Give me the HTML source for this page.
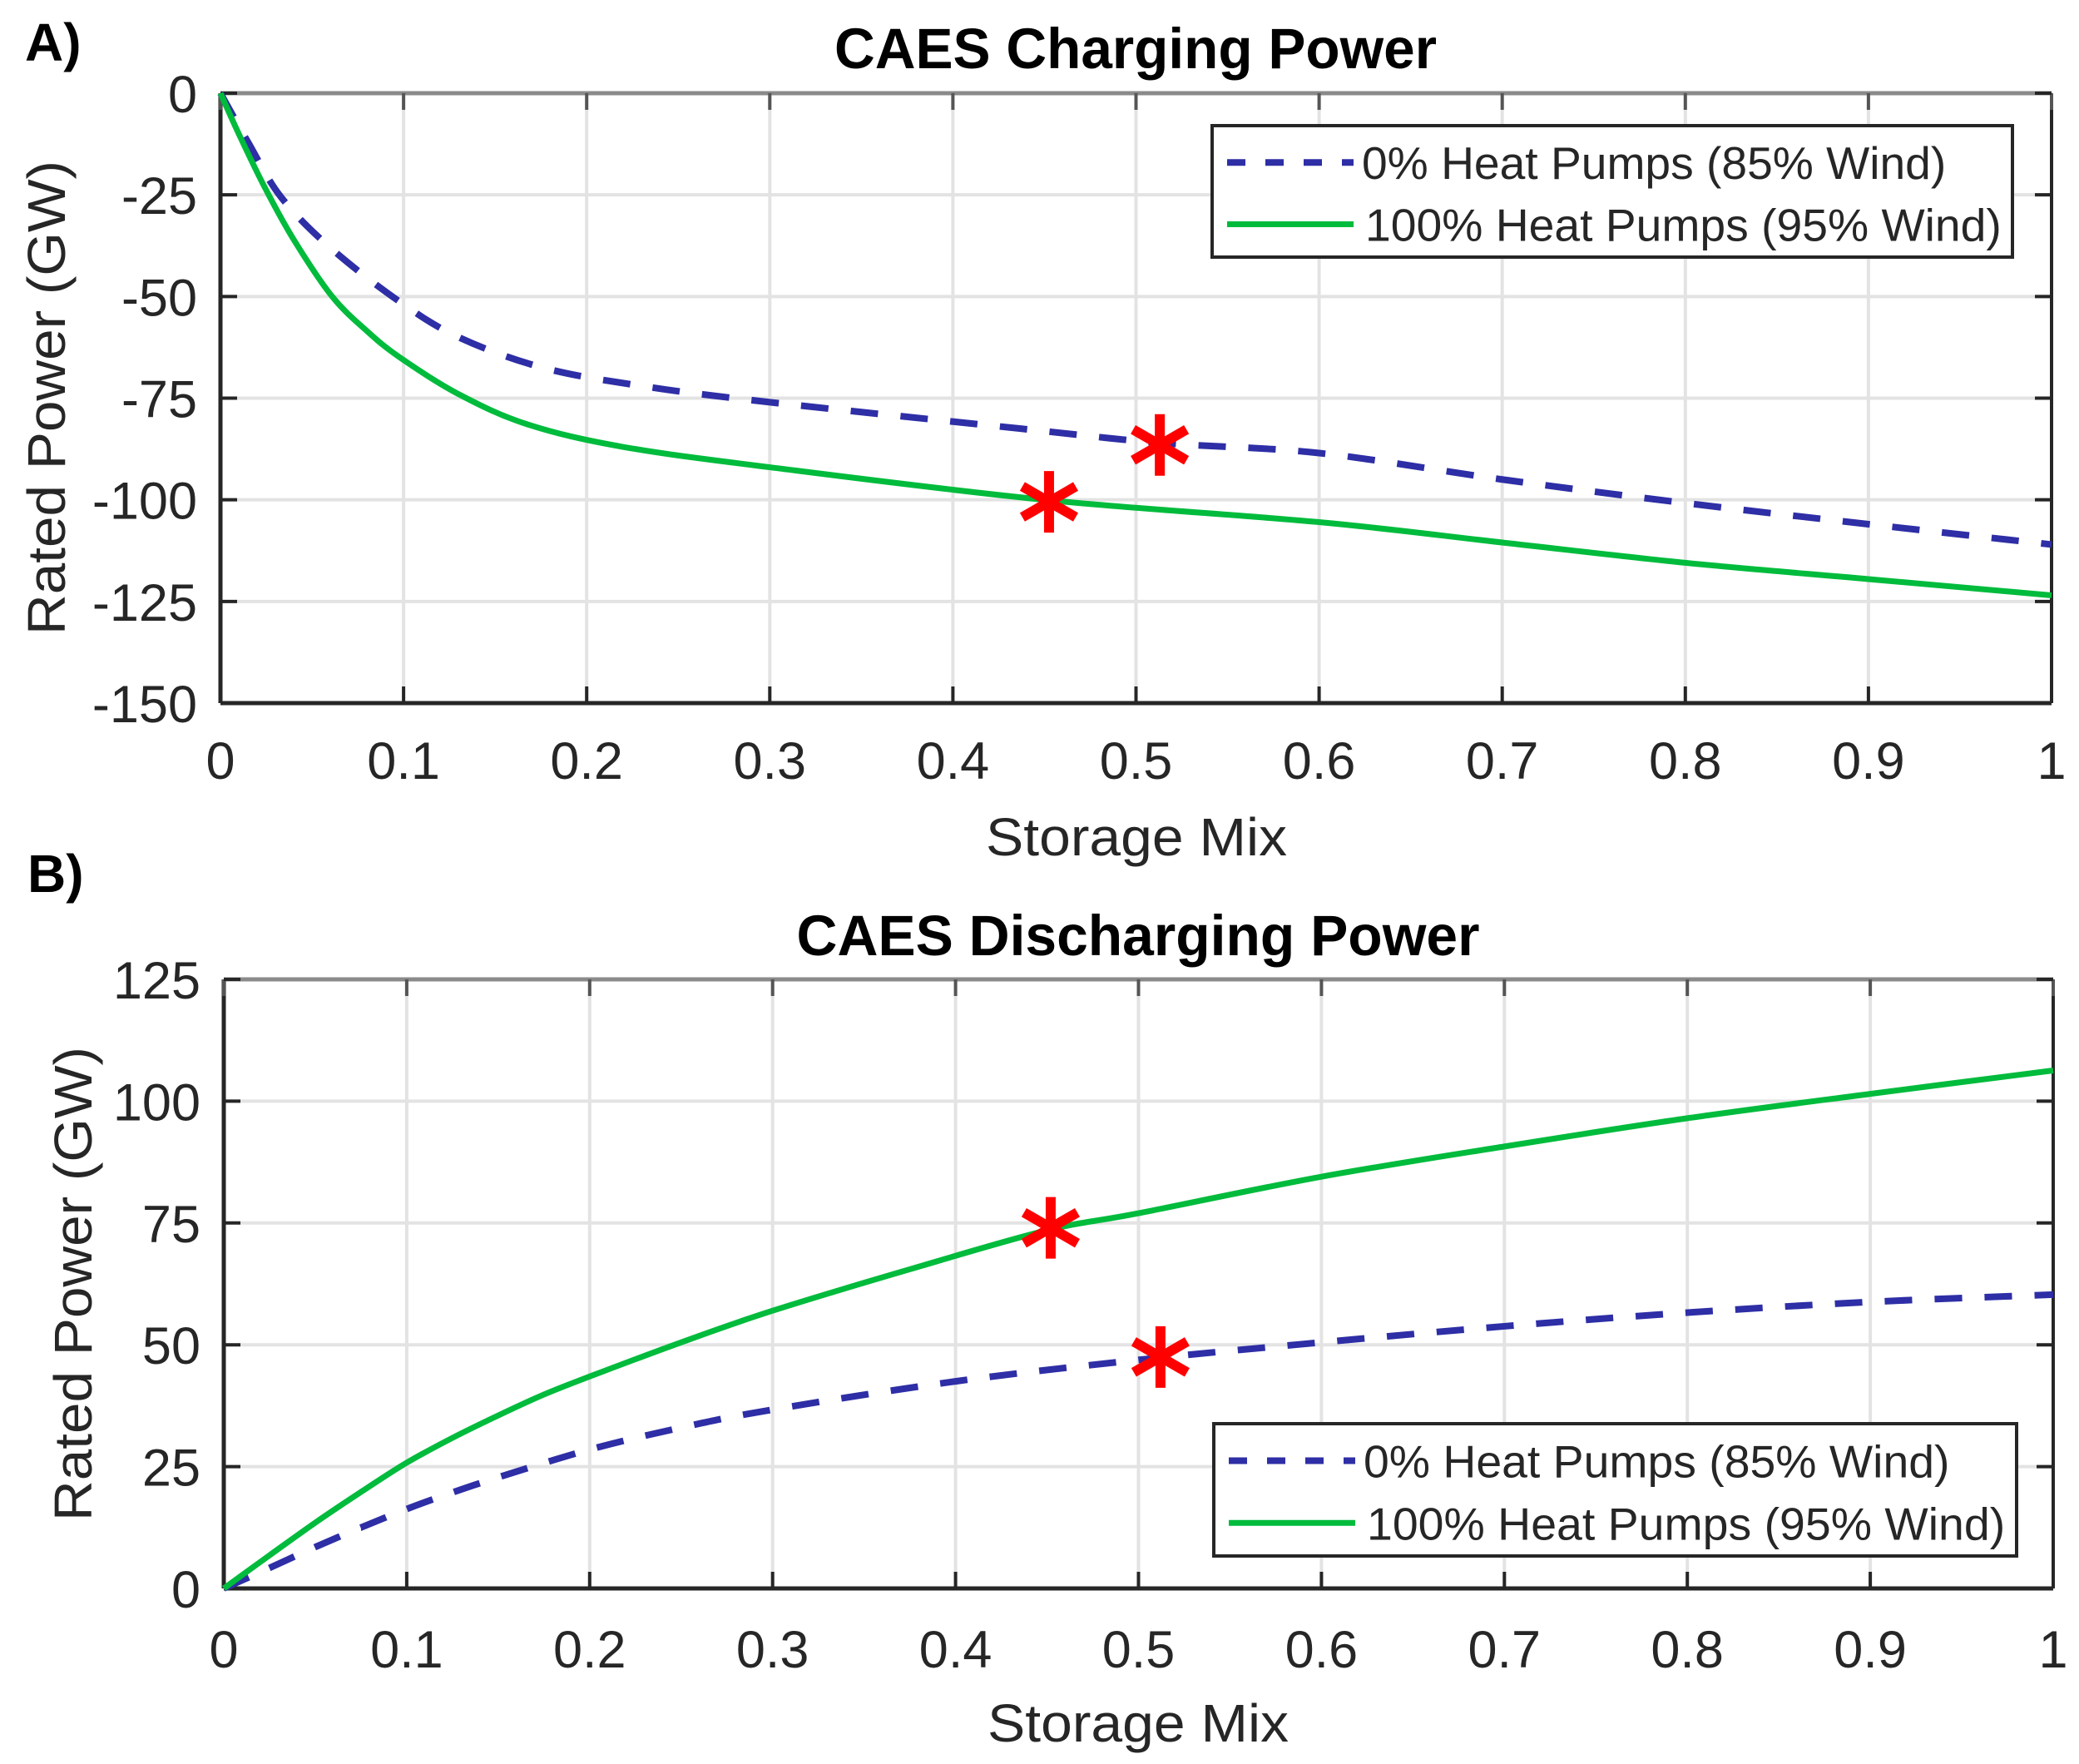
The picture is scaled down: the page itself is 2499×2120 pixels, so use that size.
<!DOCTYPE html>
<html><head><meta charset="utf-8"><style>
html,body{margin:0;padding:0;background:#fff;}
svg{display:block;}
text{font-family:"Liberation Sans",Arial,sans-serif;}
</style></head><body>
<svg id="s" width="2499" height="2120" viewBox="0 0 2499 2120" xmlns="http://www.w3.org/2000/svg">
<rect width="2499" height="2120" fill="#fff"/>
<g id="g"></g>
<text x="30" y="73" font-size="64" font-weight="bold" fill="#000">A)</text>
<text x="1365" y="82" font-size="69" font-weight="bold" text-anchor="middle" textLength="724" lengthAdjust="spacingAndGlyphs" fill="#000">CAES Charging Power</text>
<text x="33" y="1072" font-size="64" font-weight="bold" fill="#000">B)</text>
<text x="1368" y="1148" font-size="69" font-weight="bold" text-anchor="middle" textLength="821" lengthAdjust="spacingAndGlyphs" fill="#000">CAES Discharging Power</text>
<text x="1366" y="1028" font-size="64" text-anchor="middle" textLength="362" lengthAdjust="spacingAndGlyphs" fill="#262626">Storage Mix</text>
<text x="1368" y="2093" font-size="64" text-anchor="middle" textLength="362" lengthAdjust="spacingAndGlyphs" fill="#262626">Storage Mix</text>
<text transform="translate(78,478) rotate(-90)" font-size="64" text-anchor="middle" textLength="570" lengthAdjust="spacingAndGlyphs" fill="#262626">Rated Power (GW)</text>
<text transform="translate(110,1543) rotate(-90)" font-size="64" text-anchor="middle" textLength="570" lengthAdjust="spacingAndGlyphs" fill="#262626">Rated Power (GW)</text>
</svg>
<script>
(function(){
var g=document.getElementById('g');var NS='http://www.w3.org/2000/svg';
function el(t,a,txt){var e=document.createElementNS(NS,t);for(var k in a)e.setAttribute(k,a[k]);if(txt!==undefined)e.textContent=txt;g.appendChild(e);return e;}
function cr(pts){
 var d='M'+pts[0][0]+','+pts[0][1];
 for(var i=0;i<pts.length-1;i++){
  var p0=pts[i-1]||pts[i],p1=pts[i],p2=pts[i+1],p3=pts[i+2]||p2;
  var c1=[p1[0]+(p2[0]-p0[0])/6,p1[1]+(p2[1]-p0[1])/6];
  var c2=[p2[0]-(p3[0]-p1[0])/6,p2[1]-(p3[1]-p1[1])/6];
  d+=' C'+c1[0]+','+c1[1]+' '+c2[0]+','+c2[1]+' '+p2[0]+','+p2[1];
 }
 return d;
}
function star(x,y){
 var r=37,w=12;
 el('line',{x1:x,y1:y-r,x2:x,y2:y+r,stroke:'#ff0000','stroke-width':w});
 var a=Math.PI/6;
 el('line',{x1:x-r*Math.cos(a),y1:y-r*Math.sin(a),x2:x+r*Math.cos(a),y2:y+r*Math.sin(a),stroke:'#ff0000','stroke-width':w});
 el('line',{x1:x-r*Math.cos(a),y1:y+r*Math.sin(a),x2:x+r*Math.cos(a),y2:y-r*Math.sin(a),stroke:'#ff0000','stroke-width':w});
}
function panel(o){
 var X=function(v){return o.x0+v*(o.x1-o.x0);};
 var Y=function(v){return o.yb+(v-o.vmin)/(o.vmax-o.vmin)*(o.yt-o.yb);};
 for(var i=1;i<10;i++){var x=X(i/10);el('line',{x1:x,y1:o.yt,x2:x,y2:o.yb,stroke:'#e3e3e3','stroke-width':4});}
 for(var v=o.vmin+25;v<o.vmax;v+=25){var y=Y(v);el('line',{x1:o.x0,y1:y,x2:o.x1,y2:y,stroke:'#e3e3e3','stroke-width':4});}
 el('line',{x1:o.x0,y1:o.yt,x2:o.x1,y2:o.yt,stroke:'#8a8a8a','stroke-width':5});
 el('line',{x1:o.x1,y1:o.yt,x2:o.x1,y2:o.yb,stroke:'#262626','stroke-width':4});
 el('line',{x1:o.x0,y1:o.yt,x2:o.x0,y2:o.yb,stroke:'#262626','stroke-width':5});
 el('line',{x1:o.x0,y1:o.yb,x2:o.x1,y2:o.yb,stroke:'#262626','stroke-width':5});
 for(var i=0;i<=10;i++){var x=X(i/10);
  el('line',{x1:x,y1:o.yb,x2:x,y2:o.yb-20,stroke:'#262626','stroke-width':4});
  el('line',{x1:x,y1:o.yt,x2:x,y2:o.yt+20,stroke:'#555','stroke-width':4});
  var lab=i==0?'0':(i==10?'1':'0.'+i);
  el('text',{x:x,y:o.xly,'font-size':63,'text-anchor':'middle',fill:'#262626'},lab);
 }
 for(var v=o.vmin;v<=o.vmax;v+=25){var y=Y(v);
  el('line',{x1:o.x0,y1:y,x2:o.x0+20,y2:y,stroke:'#262626','stroke-width':4});
  el('line',{x1:o.x1,y1:y,x2:o.x1-20,y2:y,stroke:'#262626','stroke-width':4});
  el('text',{x:o.x0-28,y:y+23,'font-size':63,'text-anchor':'end',fill:'#262626'},String(v));
 }
 var gp=o.green.map(function(p){return [X(p[0]),Y(p[1])];});
 var bp=o.blue.map(function(p){return [X(p[0]),Y(p[1])];});
 el('path',{d:cr(bp),fill:'none',stroke:'#2e2ea6','stroke-width':8,'stroke-dasharray':'33 27'});
 el('path',{d:cr(gp),fill:'none',stroke:'#00bb3c','stroke-width':7});
 o.stars.forEach(function(s){star(X(s[0]),Y(s[1]));});
 var L=o.leg;
 el('rect',{x:L.x,y:L.y,width:L.w,height:L.h,fill:'#fff',stroke:'#262626','stroke-width':4});
 var r1=L.y+L.h*0.28,r2=L.y+L.h*0.75;
 el('line',{x1:L.x+18,y1:r1,x2:L.x+170,y2:r1,stroke:'#2e2ea6','stroke-width':8,'stroke-dasharray':'22 24'});
 el('line',{x1:L.x+18,y1:r2,x2:L.x+170,y2:r2,stroke:'#00bb3c','stroke-width':7});
 el('text',{x:L.x+180,y:r1+20,'font-size':55,fill:'#262626',textLength:L.w*0.73,lengthAdjust:'spacingAndGlyphs'},'0% Heat Pumps (85% Wind)');
 el('text',{x:L.x+184,y:r2+20,'font-size':55,fill:'#262626',textLength:L.w*0.795,lengthAdjust:'spacingAndGlyphs'},'100% Heat Pumps (95% Wind)');
}
panel({x0:265,x1:2466,yt:112,yb:845,vmin:-150,vmax:0,xly:936,
 green:[[0,0],[0.01,-10],[0.024,-23],[0.04,-36],[0.061,-50],[0.08,-58.5],[0.098,-65],[0.13,-74],[0.168,-81.5],[0.22,-87],[0.3,-92],[0.45,-100],[0.6,-105.5],[0.7,-110.5],[0.8,-115.5],[0.9,-119.5],[1,-123.5]],
 blue:[[0,0],[0.015,-12],[0.033,-25.5],[0.06,-38],[0.097,-51],[0.13,-60],[0.176,-67.5],[0.23,-72],[0.3,-76],[0.437,-82.5],[0.513,-86],[0.6,-88.5],[0.7,-95],[0.8,-100.8],[0.9,-106],[1,-111]],
 stars:[[0.4525,-100.5],[0.513,-86.5]],
 leg:{x:1457,y:151,w:962,h:158}});
panel({x0:269,x1:2468,yt:1177,yb:1909,vmin:0,vmax:125,xly:2004,
 green:[[0,0],[0.025,6.8],[0.05,13.5],[0.075,19.8],[0.1,25.8],[0.125,30.9],[0.15,35.5],[0.175,39.8],[0.2,43.5],[0.25,50.5],[0.3,57],[0.375,65.5],[0.45,73.5],[0.5,77],[0.6,84.5],[0.7,90.7],[0.8,96.5],[0.9,101.5],[1,106.3]],
 blue:[[0,0],[0.025,4.2],[0.05,8.5],[0.075,12.5],[0.1,16.3],[0.125,19.7],[0.15,22.8],[0.2,28.5],[0.25,33],[0.3,36.7],[0.4,42.5],[0.5,46.9],[0.6,50.5],[0.7,53.8],[0.8,56.6],[0.9,58.8],[1,60.3]],
 stars:[[0.452,74],[0.512,47.5]],
 leg:{x:1459,y:1711,w:965,h:159}});
})();
</script>
</body></html>
